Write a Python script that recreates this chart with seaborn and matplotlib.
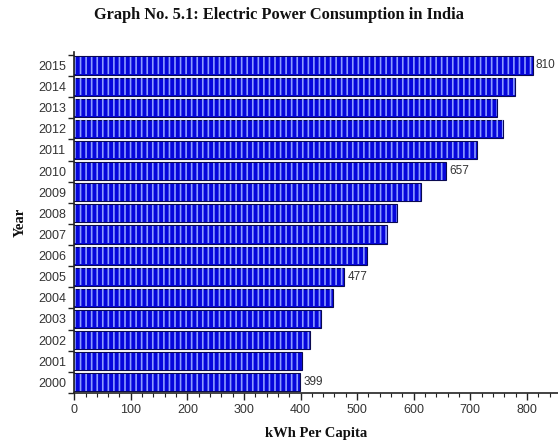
#!/usr/bin/env python3

import numpy as np
import pandas as pd
import seaborn as sns
import matplotlib.pyplot as plt
from matplotlib.ticker import MultipleLocator, FixedLocator, NullFormatter

# values (top bar first)
years = ["2015", "2014", "2013", "2012", "2011", "2010", "2009", "2008",
         "2007", "2006", "2005", "2004", "2003", "2002", "2001", "2000"]
kwh_per_capita = [810, 779, 747, 757, 712, 657, 612, 571,
                  552, 518, 477, 457, 437, 416, 402, 399]
labelled_years = ["2015", "2010", "2005", "2000"]

df = pd.DataFrame({"year": years, "kwh": kwh_per_capita})

sns.set_theme(style="white")
plt.rcParams["font.family"] = ["Liberation Sans", "DejaVu Sans"]
plt.rcParams["hatch.color"] = "#8c9cff"
plt.rcParams["hatch.linewidth"] = 1.2

fig = plt.figure(figsize=(5.58, 4.44), dpi=100)
ax = fig.add_axes([0.133, 0.115, 0.867, 0.767])

# solid blue bars with a dark outline
sns.barplot(data=df, x="kwh", y="year", order=years, orient="h", ax=ax,
            color="#0606dc", saturation=1, width=0.86,
            edgecolor="#0a0a50", linewidth=0.8)
n_base = len(ax.patches)
# light vertical stripes on top
sns.barplot(data=df, x="kwh", y="year", order=years, orient="h", ax=ax,
            facecolor="none", edgecolor="#8c9cff", linewidth=0,
            hatch="|||", width=0.80)
for p in ax.patches[n_base:]:
    p.set_edgecolor("#8c9cff")
    p.set_linewidth(0)
    if hasattr(p, "set_hatchcolor"):
        p.set_hatchcolor("#8c9cff")

# value labels for a few bars
for i, (yr, v) in enumerate(zip(years, kwh_per_capita)):
    if yr in labelled_years:
        ax.text(v + 6, i, str(v), va="center", ha="left",
                fontsize=8.5, color="#333333")

ax.set_xlim(0, 855)
ax.set_ylim(len(years) - 0.5, -0.62)

# x ticks: major every 100, minor every 20
ax.xaxis.set_major_locator(MultipleLocator(100))
ax.xaxis.set_minor_locator(MultipleLocator(20))
ax.tick_params(axis="x", which="both", bottom=True)
ax.tick_params(axis="x", which="major", direction="out", length=5, width=1,
               color="#222222", labelsize=9, labelcolor="#333333", pad=3)
ax.tick_params(axis="x", which="minor", direction="out", length=3, width=0.8,
               color="#222222")

# y ticks: marks between bars, labels centred on bars
ax.yaxis.set_major_locator(FixedLocator(np.arange(len(years) + 1) - 0.5))
ax.yaxis.set_major_formatter(NullFormatter())
ax.yaxis.set_minor_locator(FixedLocator(np.arange(len(years))))
ax.set_yticklabels(years, minor=True)
ax.tick_params(axis="y", which="both", left=True)
ax.tick_params(axis="y", which="major", direction="out", length=4, width=1,
               color="#222222")
ax.tick_params(axis="y", which="minor", length=0, labelsize=9,
               labelcolor="#333333", pad=6)

for side in ["top", "right"]:
    ax.spines[side].set_visible(False)
for side in ["left", "bottom"]:
    ax.spines[side].set_color("#222222")
    ax.spines[side].set_linewidth(1.2)

serif = ["Liberation Serif", "DejaVu Serif"]
ax.set_xlabel("kWh Per Capita", family=serif, fontweight="bold",
              fontsize=10.5, color="#111111", labelpad=8)
ax.set_ylabel("Year", family=serif, fontweight="bold",
              fontsize=10.5, color="#111111", labelpad=8)
fig.suptitle("Graph No. 5.1: Electric Power Consumption in India",
             family=serif, fontweight="bold", fontsize=11.8,
             color="#111111", x=0.5, y=0.985)

fig.savefig("out.png", dpi=100)
